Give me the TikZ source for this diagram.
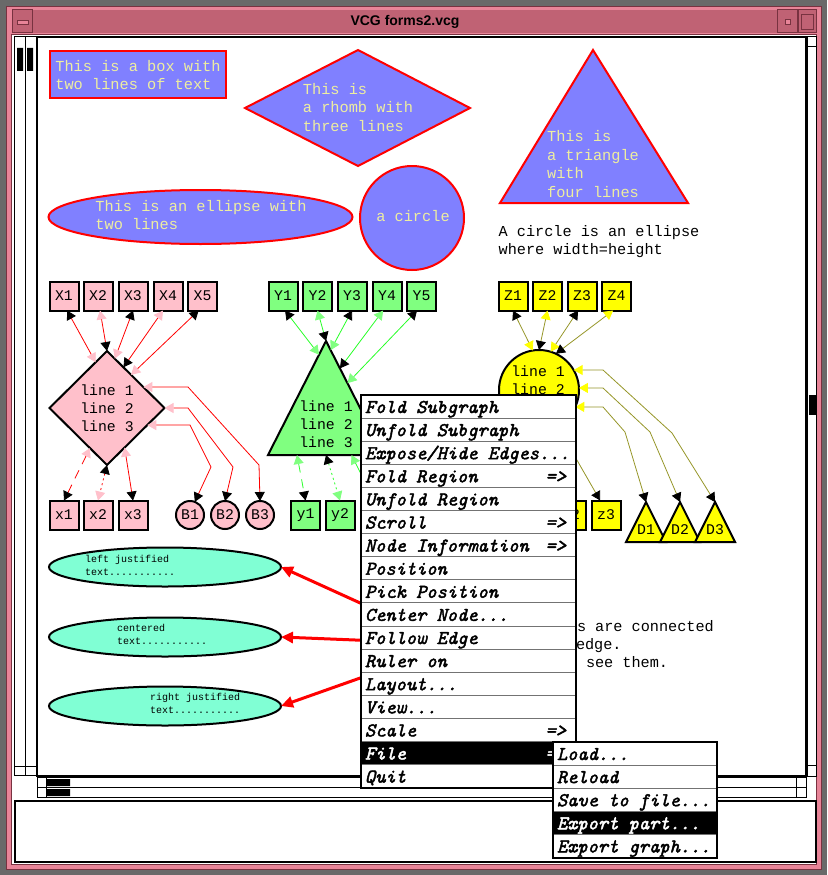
\documentclass[tikz,border=0pt]{standalone}
\usepackage{fontspec}
\usetikzlibrary{arrows.meta,shapes.geometric,calc}
\newfontfamily\vcgmono{Liberation Mono}
\newfontfamily\vcgsans{Liberation Sans}
\newfontfamily\vcgmenufam{lmmono10-italic.otf}[FakeBold=2.2]
\newcommand\vcgmenufont{\vcgmenufam\fontsize{19.5}{20}\selectfont}
\definecolor{shapeblue}{RGB}{128,128,255}
\definecolor{paleyellow}{RGB}{238,238,160}
\definecolor{nodepink}{RGB}{255,192,203}
\definecolor{nodegreen}{RGB}{128,255,128}
\definecolor{nodeyellow}{RGB}{255,255,0}
\definecolor{nodeaqua}{RGB}{128,255,212}
\definecolor{edgeolive}{RGB}{150,150,40}
\definecolor{edgegreen}{RGB}{40,255,40}
\definecolor{framepink}{RGB}{232,132,152}
\definecolor{titlepink}{RGB}{192,98,116}
\definecolor{framedark}{RGB}{120,50,64}
\definecolor{desk}{RGB}{105,105,105}
\begin{document}
\begin{tikzpicture}[x=1pt,y=-1pt,
  every node/.style={inner sep=0pt, outer sep=0pt},
  fshape/.style={fill=shapeblue, draw=red, line width=2pt},
  ftext/.style={text=paleyellow, font=\vcgmono\fontsize{15.3}{18.6}\selectfont, align=left},
  plain/.style={font=\vcgmono\fontsize{15.2}{18.2}\selectfont, align=left},
  lbl/.style={font=\vcgmono\fontsize{14.8}{18}\selectfont, align=center},
  small/.style={font=\vcgmono\fontsize{10}{12.6}\selectfont, align=left, anchor=west},
  gbox/.style={draw, line width=2pt, minimum width=29pt, minimum height=29pt, lbl},
  pbox/.style={gbox, fill=nodepink},
  grbox/.style={gbox, fill=nodegreen},
  ybox/.style={gbox, fill=nodeyellow},
  pcirc/.style={circle, draw, line width=2pt, fill=nodepink, minimum size=28pt, lbl},
  aell/.style={ellipse, draw, line width=2pt, fill=nodeaqua, minimum width=232pt, minimum height=39pt},
  pe/.style={red, line width=0.8pt},
  ge/.style={edgegreen, line width=0.8pt},
  ye/.style={edgeolive, line width=0.8pt},
  he/.style={red, line width=3pt},
  vdash/.style={dash pattern=on 9pt off 7pt},
  vdot/.style={dash pattern=on 2pt off 3pt},
  Blk/.tip={Triangle[length=9pt,width=10pt,color=black]},
  Pnk/.tip={Triangle[length=9pt,width=10pt,color=nodepink]},
  Grn/.tip={Triangle[length=9pt,width=10pt,color=nodegreen]},
  Yel/.tip={Triangle[length=9pt,width=10pt,color=nodeyellow]},
  Rd/.tip={Triangle[length=12pt,width=11pt,color=red]},
  menutxt/.style={font=\vcgmenufont, anchor=base west},
  menuarr/.style={font=\vcgmenufont, anchor=base east},
  sep/.style={black!55, line width=1pt},
  titletxt/.style={font=\vcgsans\bfseries\fontsize{14}{16}\selectfont}
]
\useasboundingbox (0,0) rectangle (827,875);

% ---------- window decoration ----------
\fill[desk] (0,0) rectangle (827,875);
\fill[framepink] (6,6) rectangle (822,870);
\draw[framedark, line width=1pt] (6.5,6.5) rectangle (821.5,869.5);
\fill[titlepink] (12,10) rectangle (816,33);
\draw[framedark, line width=1pt] (12,10) rectangle (32,33);
\fill[framepink] (17,20) rectangle (28,24);
\draw[framedark, line width=0.6pt] (17,20) rectangle (28,24);
\draw[framedark, line width=1pt] (777,10) rectangle (797,33);
\draw[framedark, line width=0.6pt, fill=framepink] (785,19) rectangle (790,24);
\draw[framedark, line width=1pt] (798,10) rectangle (816,33);
\draw[framedark, line width=0.8pt] (801,14) rectangle (813,29);
\node[titletxt] (title) at (405,22) {VCG forms2.vcg};
\fill[white] (12,35) rectangle (816,864);
\draw[framedark, line width=1pt] (11.5,34.5) rectangle (816.5,864.5);

% scroll bars
\draw[line width=1pt] (14.5,37) rectangle (25.5,775) (25.5,37) rectangle (36.5,775);
\draw[line width=1pt] (14.5,766) -- (36.5,766);
\fill (17,48) rectangle (23,71) (27,48) rectangle (33,71);
\draw[line width=1pt] (807.5,37) rectangle (816.5,776);
\draw[line width=1pt] (807.5,47) -- (816.5,47) (807.5,765) -- (816.5,765);
\fill (809,395) rectangle (816,415);
\draw[line width=1pt] (37,777.5) rectangle (806,787.5) (37,787.5) rectangle (806,797.5);
\draw[line width=1pt] (46.5,777.5) -- (46.5,797.5) (796.5,777.5) -- (796.5,797.5);
\fill (47,779) rectangle (70,786) (47,789) rectangle (70,796);
% drawing area and message line
\draw[line width=2pt, fill=white] (37,37) rectangle (806,776);
\draw[line width=2pt, fill=white] (15,801) rectangle (816,862);

% ---------- shape samples ----------
\node[rectangle, fshape, minimum width=176pt, minimum height=47pt] (box) at (138,74.5) {};
\node[ftext] (boxt) at (138,75) {This is a box with\\two lines of text};
\draw[fshape] (245,108) coordinate (rhW) -- (358,50) coordinate (rhN) -- (470,108) coordinate (rhE) -- (358,166) coordinate (rhS) -- cycle;
\node[ftext] (rht) at (358,107.5) {This is\\a rhomb with\\three lines};
\draw[fshape] (593,50) coordinate (trA) -- (688,203) coordinate (trR) -- (500,203) coordinate (trL) -- cycle;
\node[ftext] (trt) at (593,164) {This is\\a triangle\\with\\four lines};
\node[ellipse, fshape, minimum width=304pt, minimum height=54pt] (ell) at (200.5,217) {};
\node[ftext] (ellt) at (201,215) {This is an ellipse with\\two lines};
\node[circle, fshape, minimum size=104pt] (circ) at (412,218) {};
\node[ftext] (circt) at (413,216) {a circle};
\node[plain] (note) at (599,241.5) {A circle is an ellipse\\where width=height};

% ---------- pink group ----------
\node[pbox] (X1) at (64,296) {X1};
\node[pbox] (X2) at (98,296) {X2};
\node[pbox] (X3) at (133,296) {X3};
\node[pbox] (X4) at (168,296) {X4};
\node[pbox] (X5) at (202.5,296) {X5};
\node[diamond, draw, line width=2pt, fill=nodepink, minimum width=115pt, minimum height=114pt, lbl] (dia) at (107,408) {line 1\\line 2\\line 3};
\node[pbox] (x1) at (64,515) {x1};
\node[pbox] (x2) at (98,515) {x2};
\node[pbox] (x3) at (133,515) {x3};
\node[pcirc] (B1) at (190,515) {B1};
\node[pcirc] (B2) at (225,515) {B2};
\node[pcirc] (B3) at (260,515) {B3};

\draw[pe, Blk-Pnk] (X1.-78) -- (dia.104);
\draw[pe, Pnk-Blk] (X2.-82) -- (dia.north);
\draw[pe, Blk-Pnk] (X3.south) -- (dia.81);
\draw[pe, Pnk-Blk] (X4.-109) -- (dia.68);
\draw[pe, Blk-Pnk] (X5.-105) -- (dia.54);
\draw[pe, vdash, Pnk-Blk] (dia.-113) -- (x1.north);
\draw[pe, vdot, Blk-Pnk] (dia.south) -- (x2.north);
\draw[pe, Pnk-Blk] (dia.-66) -- (x3.north);
\draw[pe, Pnk-Blk] (dia.30) -- (188,387) -- (259,465) -- (B3.north);
\draw[pe, Pnk-Blk] (dia.east) -- (188,408) -- (233,467) -- (B2.north);
\draw[pe, Pnk-Blk] (dia.-23) -- (190,425) -- (211,467) -- (B1.70);

% ---------- green group ----------
\node[grbox] (Y1) at (283,296) {Y1};
\node[grbox] (Y2) at (317.5,296) {Y2};
\node[grbox] (Y3) at (352,296) {Y3};
\node[grbox] (Y4) at (387,296) {Y4};
\node[grbox] (Y5) at (421.5,296) {Y5};
\draw[fill=nodegreen, line width=2pt] (326,341) coordinate (gtA) -- (384,455) coordinate (gtR) -- (268,455) coordinate (gtL) -- cycle;
\node[lbl] (gtt) at (326,424) {line 1\\line 2\\line 3};
\node[grbox] (y1) at (305.5,515) {y1};
\node[grbox] (y2) at (340,515) {y2};
\coordinate (y3) at (374,500);

\draw[ge, Blk-Grn] (Y1.-82) -- ($(gtA)!0.12!(gtL)$);
\draw[ge, Grn-Blk] (Y2.south) -- (gtA);
\draw[ge, Blk-Grn] (Y3.south) -- ($(gtA)!0.08!(gtR)$);
\draw[ge, Grn-Blk] (Y4.-105) -- ($(gtA)!0.24!(gtR)$);
\draw[ge, Blk-Grn] (Y5.-107) -- ($(gtA)!0.37!(gtR)$);
\draw[ge, vdash, Grn-Blk] ($(gtL)!0.25!(gtR)$) -- (y1.north);
\draw[ge, vdot, Blk-Grn] ($(gtL)!0.5!(gtR)$) -- (y2.north);
\draw[ge, Grn-] ($(gtL)!0.72!(gtR)$) -- (y3);

% ---------- yellow group ----------
\node[ybox] (Z1) at (513,296) {Z1};
\node[ybox] (Z2) at (547.5,296) {Z2};
\node[ybox] (Z3) at (582,296) {Z3};
\node[ybox] (Z4) at (616.5,296) {Z4};
\node[circle, draw, line width=2pt, fill=nodeyellow, minimum size=80pt] (zc) at (539,390) {};
\node[lbl] (zct) at (538,380) {line 1\\line 2};
\node[ybox] (z2) at (571,515) {z2};
\node[ybox] (z3) at (606,515) {z3};
\foreach \n/\ax in {D1/646, D2/680, D3/715} {
  \draw[fill=nodeyellow, line width=2pt] (\ax,502) coordinate (\n) -- (\ax+20,542) -- (\ax-20,542) -- cycle;
  \node[lbl] (\n t) at (\ax,530) {\n};
}

\draw[ye, Blk-Yel] (Z1.south) -- (zc.99);
\draw[ye, Yel-Blk] (Z2.south) -- (zc.north);
\draw[ye, Blk-Yel] (Z3.-105) -- (zc.73);
\draw[ye, Yel-Blk] (Z4.-103) -- (zc.65);
\draw[ye, Yel-Blk] (zc.30) -- (603,370) -- (672,433) -- (D3);
\draw[ye, Yel-Blk] (zc.3) -- (603,388) -- (650,432) -- (D2);
\draw[ye, Yel-Blk] (zc.-25) -- (603,407) -- (625,432) -- (D1);
\draw[ye, -Blk] (zc.-63) -- (z3.112);

% ---------- text alignment samples ----------
\node[aell] (E1) at (165,567) {};
\node[aell] (E2) at (165,637) {};
\node[aell] (E3) at (165,706) {};
\node[small] (E1t) at (85,565.5) {left justified\\text...........};
\node[small] (E2t) at (117,634.5) {centered\\text...........};
\node[small] (E3t) at (150,703.5) {right justified\\text...........};
\coordinate (h1) at (380,612);
\coordinate (h2) at (380,641);
\coordinate (h3) at (380,671);
\draw[he, -Rd] (h1) -- (E1.east);
\draw[he, -Rd] (h2) -- (E2.east);
\draw[he, -Rd] (h3) -- (E3.east);

\node[plain, anchor=base west] (n1) at (577,631) {s are connected};
\node[plain, anchor=base west] (n2) at (576,649) {edge.};
\node[plain, anchor=base west] (n3) at (586,667) {see them.};

% ---------- popup menu ----------
\fill[white] (361,395) rectangle (576,788);
\fill[black] (362,741.5) rectangle (576,764.5);
\foreach \k in {1,...,16} \draw[sep] (362,395+23.1*\k) -- (576,395+23.1*\k);
\draw[black, line width=1.5pt] (361,395) rectangle (576,788);
\node[menutxt] (m1) at (365,413) {Fold Subgraph};
\node[menutxt] (m2) at (365,436.1) {Unfold Subgraph};
\node[menutxt] (m3) at (365,459.2) {Expose/Hide Edges...};
\node[menutxt] (m4) at (365,482.3) {Fold Region};
\node[menutxt] (m5) at (365,505.4) {Unfold Region};
\node[menutxt] (m6) at (365,528.5) {Scroll};
\node[menutxt] (m7) at (365,551.6) {Node Information};
\node[menutxt] (m8) at (365,574.7) {Position};
\node[menutxt] (m9) at (365,597.8) {Pick Position};
\node[menutxt] (m10) at (365,620.9) {Center Node...};
\node[menutxt] (m11) at (365,644) {Follow Edge};
\node[menutxt] (m12) at (365,667.1) {Ruler on};
\node[menutxt] (m13) at (365,690.2) {Layout...};
\node[menutxt] (m14) at (365,713.3) {View...};
\node[menutxt] (m15) at (365,736.4) {Scale};
\node[menutxt, text=white] (m16) at (365,759.5) {File};
\node[menutxt] (m17) at (365,782.6) {Quit};
\node[menuarr] (a4) at (566,482.3) {=>};
\node[menuarr] (a6) at (566,528.5) {=>};
\node[menuarr] (a7) at (566,551.6) {=>};
\node[menuarr] (a15) at (566,736.4) {=>};
\node[menuarr, text=white] (a16) at (566,759.5) {=>};

% ---------- file submenu ----------
\fill[white] (553,742) rectangle (717,858);
\fill[black] (554,811.3) rectangle (717,834.4);
\foreach \k in {1,...,4} \draw[sep] (554,742+23.1*\k) -- (717,742+23.1*\k);
\draw[black, line width=1.5pt] (553,742) rectangle (717,858);
\node[menutxt] (s1) at (557,760) {Load...};
\node[menutxt] (s2) at (557,783.1) {Reload};
\node[menutxt] (s3) at (557,806.2) {Save to file...};
\node[menutxt, text=white] (s4) at (557,829.3) {Export part...};
\node[menutxt] (s5) at (557,852.4) {Export graph...};
\end{tikzpicture}
\end{document}
